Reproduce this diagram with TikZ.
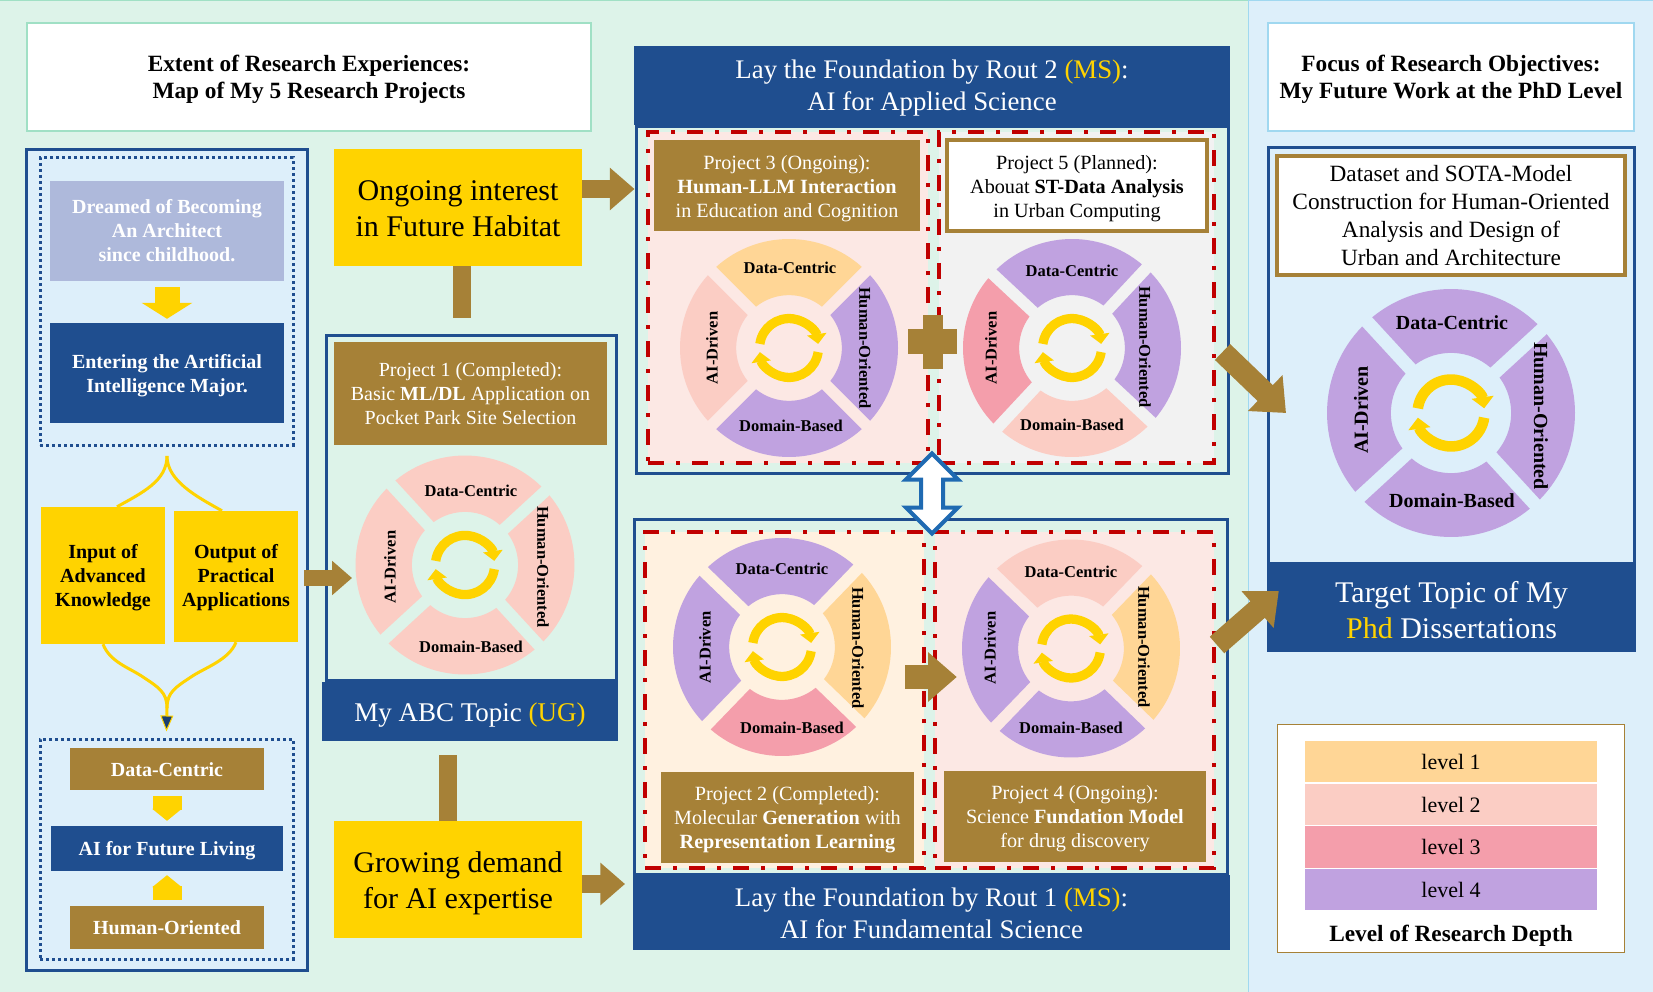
\documentclass[tikz,border=0pt]{standalone}
\usepackage{fontspec}
\setmainfont{Liberation Serif}
\usetikzlibrary{arrows.meta,shapes.arrows}

\definecolor{bluec}{HTML}{1F4E8F}
\definecolor{brownc}{HTML}{A68137}
\definecolor{yellowc}{HTML}{FFD300}
\definecolor{greenbg}{HTML}{DDF3E9}
\definecolor{bluebg}{HTML}{DDEFFA}
\definecolor{greenline}{HTML}{A0E0C5}
\definecolor{blueline}{HTML}{A0D8F0}
\definecolor{lilac}{HTML}{AEB9DB}
\definecolor{redc}{HTML}{C00000}
\definecolor{levelA}{HTML}{FFD696}
\definecolor{levelB}{HTML}{FBCDC4}
\definecolor{levelC}{HTML}{F49EAB}
\definecolor{levelD}{HTML}{C0A2E0}
\definecolor{fillA}{HTML}{FCE8E4}
\definecolor{fillB}{HTML}{F2F2F2}
\definecolor{fillC}{HTML}{FFF1E0}
\definecolor{swapc}{HTML}{1F6AB2}

\tikzset{
  box/.style 2 args={rectangle,minimum width=#1pt,minimum height=#2pt,inner sep=0pt,align=center},
  panel/.style={draw=bluec,line width=3pt},
  header/.style={fill=bluec,text=white},
  brownbox/.style={fill=brownc,text=white},
  yellowbox/.style={fill=yellowc},
  dotted box/.style={draw=bluec,line width=3pt,dash pattern=on 3pt off 3pt},
  red box/.style={draw=redc,line width=4pt,dash pattern=on 16pt off 12pt on 4pt off 12pt},
  bigarrow/.style 2 args={draw=brownc,line width=#1pt,-{Triangle[width=#2pt,length=.6*#2pt]}},
  bar/.style={draw=brownc,line width=18pt},
  yarrow/.style={draw=yellowc,line width=25pt,-{Triangle[width=50pt,length=16pt]}},
  penta/.style={draw=yellowc,line width=29pt,-{Triangle[width=29pt,length=12pt]}},
  forkline/.style={draw=yellowc,line width=3pt}
}

% size then leading, in pixels of the reference
\newcommand{\fs}[2]{\fontsize{#1}{#2}\selectfont}
% moves the text of a box down
\newcommand{\drop}[1]{\rule{0pt}{\dimexpr\fontcharht\font`l+2\dimexpr#1pt\relax\relax}}

% ring of four sectors with the two turning arrows
\newcommand{\wheel}[8]{
  \begin{scope}[shift={(#2,#3)}]
  \pgfmathsetmacro{\rin}{0.485*#1}
  \pgfmathsetmacro{\gapout}{asin(0.055*#1/#1)}
  \pgfmathsetmacro{\gapin}{asin(0.055*#1/\rin)}
  \begin{scope}[rotate=#8]
  \foreach \ang/\col in {90/#4,0/#5,-90/#6,180/#7} {
    \fill[\col] (\ang-45+\gapout:#1pt)
      arc[start angle=\ang-45+\gapout,end angle=\ang+45-\gapout,radius=#1pt]
      -- (\ang+45-\gapin:\rin pt)
      arc[start angle=\ang+45-\gapin,end angle=\ang-45+\gapin,radius=\rin pt] -- cycle;
  }
  \end{scope}
  \pgfmathsetmacro{\rarr}{0.27*#1}
  \pgfmathsetmacro{\warr}{0.085*#1}
  \pgfmathsetmacro{\wtip}{0.175*#1}
  \pgfmathsetmacro{\ltip}{0.09*#1}
  \draw[yellowc,line width=\warr pt,-{Triangle[width=\wtip pt,length=\ltip pt]}]
    (172:\rarr pt) arc[start angle=172,end angle=8,radius=\rarr pt];
  \draw[yellowc,line width=\warr pt,-{Triangle[width=\wtip pt,length=\ltip pt]}]
    (-8:\rarr pt) arc[start angle=-8,end angle=-172,radius=\rarr pt];
  \end{scope}
}
\newcommand{\wheellabels}[6]{
  \node[font=\fs{#2}{#2}\bfseries] (#1data) at (#3) {Data-Centric};
  \node[font=\fs{#2}{#2}\bfseries] (#1domain) at (#4) {Domain-Based};
  \node[font=\fs{#2}{#2}\bfseries,rotate=90] (#1ai) at (#5) {AI-Driven};
  \node[font=\fs{#2}{#2}\bfseries,rotate=-90] (#1human) at (#6) {Human-Oriented};
}

\begin{document}
\begin{tikzpicture}[x=1pt,y=-1pt]
\useasboundingbox (0,0) rectangle (1653,992);

% Background
\fill[greenbg] (0,0) rectangle (1248,992);
\fill[bluebg] (1248,0) rectangle (1653,992);
\draw[greenline,line width=1.5pt] (0,0.5) -- (1248,0.5);
\draw[blueline,line width=1.5pt] (1248,0.5) -- (1653,0.5);
\draw[blueline,line width=1pt] (1248,0) -- (1248,992);

% Titles
\node[box={564}{108},draw=greenline,line width=2pt,fill=white,font=\fs{23.3}{27.5}\bfseries] (titleleft) at (309,77)
  {\drop{3}Extent of Research Experiences:\\Map of My 5 Research Projects};
\node[box={366}{108},draw=blueline,line width=1.5pt,fill=white,font=\fs{23.3}{27.5}\bfseries] (titleright) at (1451,77)
  {\drop{3}Focus of Research Objectives:\\My Future Work at the PhD Level};

% Left column
\node[box={281}{821},panel,fill=bluebg] (leftpanel) at (167,560) {};
\node[box={253}{287},dotted box] (dotsup) at (166.5,301.5) {};
\node[box={234}{100},fill=lilac,text=white,font=\fs{20}{24}\bfseries] (dreamed) at (167,231)
  {Dreamed of Becoming\\An Architect\\since childhood.};
\node[box={234}{100},header,font=\fs{20}{24}\bfseries] (entering) at (167,373)
  {\drop{3}Entering the Artificial\\Intelligence Major.};
\node[box={124}{137},yellowbox,font=\fs{20}{24}\bfseries] (input) at (103,575.5)
  {\drop{3}Input of\\Advanced\\Knowledge};
\node[box={124}{131},yellowbox,font=\fs{20}{24}\bfseries] (output) at (236,576.5)
  {\drop{2}Output of\\Practical\\Applications};
\node[box={253}{220},dotted box] (dotsdown) at (166.5,849) {};
\node[box={194}{42},brownbox,font=\fs{20}{24}\bfseries] (datac) at (167,769) {\drop{1}Data-Centric};
\node[box={232}{45},header,font=\fs{20}{24}\bfseries] (future) at (167,848.5) {\drop{3}AI for Future Living};
\node[box={194}{43},brownbox,font=\fs{20}{24}\bfseries] (humano) at (167,927.5) {\drop{1}Human-Oriented};

\draw[yarrow] ([yshift=-6pt]dreamed.south) -- ([yshift=4pt]entering.north);
\draw[penta] ([yshift=-6pt]datac.south) -- ([yshift=5pt]future.north);
\draw[penta] ([yshift=6pt]humano.north) -- ([yshift=-4pt]future.south);

% Split and merge
\coordinate (forktop) at (167,456);
\coordinate (forkfoot) at (167,708);
\coordinate (forkleft) at (143,677);
\coordinate (forkright) at (191,677);
\draw[forkline] (forktop) .. controls +(0,25) and +(25,-14) .. ([xshift=14pt]input.north);
\draw[forkline] (forktop) .. controls +(0,25) and +(-25,-14) .. ([xshift=-14pt]output.north);
\draw[forkline] (input.south) .. controls +(7,18) and +(-13,-9) .. (forkleft)
  .. controls +(15,10) and +(0,-16) .. (forkfoot);
\draw[forkline] (output.south) .. controls +(-7,18) and +(13,-9) .. (forkright)
  .. controls +(-15,10) and +(0,-16) .. (forkfoot);
\draw[forkline,-{Triangle[width=13pt,length=16pt,fill=bluec!80!black,line width=1pt]}] (forkfoot) -- ([yshift=6pt]dotsdown.north);

% Two yellow boxes
\node[box={248}{117},yellowbox,font=\fs{30}{36}] (ongoing) at (458,207.5) {\drop{1}Ongoing interest\\in Future Habitat};
\node[box={248}{117},yellowbox,font=\fs{30}{36}] (growing) at (458,879.5) {\drop{4}Growing demand\\for AI expertise};

% Project 1
\node[box={290}{345},panel,fill=greenbg] (abcpanel) at (471.5,508) {};
\node[box={296}{59},header,font=\fs{27}{32}] (abchead) at (470,711.5) {\drop{4}My ABC Topic \textcolor{yellowc}{(UG)}};
\node[box={273}{103},brownbox,font=\fs{20}{24}] (projA) at (470.5,393.5)
  {Project 1 (Completed):\\Basic \textbf{ML/DL} Application on\\Pocket Park Site Selection};
\wheel{109.5}{465}{565}{levelB}{levelB}{levelB}{levelB}{-2.4}
\wheellabels{wa}{16.5}{471,491}{471,647}{390,567}{543,567}

% Route 2
\node[box={592}{347},panel,fill=greenbg] (upperpanel) at (932,300) {};
\node[box={596}{79},header,font=\fs{26.8}{32}] (upperhead) at (932,85.5)
  {\drop{3}Lay the Foundation by Rout 2 \textcolor{yellowc}{(MS)}:\\AI for Applied Science};
\node[box={280}{331},fill=fillA] (redC) at (788,297.5) {};
\node[box={275}{331},fill=fillB] (redE) at (1076.5,297.5) {};
\node[box={280}{331},red box] (redCb) at (788,297.5) {};
\node[box={275}{331},red box] (redEb) at (1076.5,297.5) {};
\node[box={266}{91},brownbox,font=\fs{20.2}{24}] (projC) at (787,185.5)
  {\drop{4}Project 3 (Ongoing):\\\textbf{Human-LLM Interaction}\\in Education and Cognition};
\node[box={260}{91},draw=brownc,line width=4pt,fill=white,font=\fs{20.2}{24}] (projE) at (1077,185.5)
  {\drop{3.5}Project 5 (Planned):\\Abouat \textbf{ST-Data Analysis}\\in Urban Computing};
\wheel{109}{789}{348}{levelA}{levelD}{levelD}{levelB}{0}
\wheellabels{wc}{16.5}{790,268}{791,426}{712,348}{865,348}
\wheel{109}{1072}{348}{levelD}{levelD}{levelB}{levelC}{2}
\wheellabels{we}{16.5}{1072,271}{1072,425}{991,348}{1145,347}

% Route 1
\node[box={593}{355},panel,fill=greenbg] (lowerpanel) at (931,696.5) {};
\node[box={597}{75},header,font=\fs{26.8}{32}] (lowerhead) at (931.5,912.5)
  {\drop{1}Lay the Foundation by Rout 1 \textcolor{yellowc}{(MS)}:\\AI for Fundamental Science};
\node[box={279}{336},fill=fillC] (redB) at (784.5,700) {};
\node[box={279}{336},fill=fillA] (redD) at (1074.5,700) {};
\node[box={279}{336},red box] (redBb) at (784.5,700) {};
\node[box={279}{336},red box] (redDb) at (1074.5,700) {};
\node[box={253}{91},brownbox,font=\fs{20.2}{24}] (projB) at (787.5,817.5)
  {\drop{3}Project 2 (Completed):\\Molecular \textbf{Generation} with\\\textbf{Representation Learning}};
\node[box={262}{91},brownbox,font=\fs{20.2}{24}] (projD) at (1075,816.5)
  {\drop{3}Project 4 (Ongoing):\\Science \textbf{Fundation Model}\\for drug discovery};
\wheel{109}{782}{647}{levelD}{levelA}{levelC}{levelD}{1}
\wheellabels{wb}{16.5}{782,569}{792,728}{705,647.5}{858,648}
\wheel{109}{1071}{648.5}{levelB}{levelA}{levelD}{levelD}{1}
\wheellabels{wd}{16.5}{1071,572}{1071,728}{990,648}{1144,647}

% Right column
\node[box={366}{415},panel,fill=bluebg] (rightpanel) at (1451.5,355.5) {};
\node[box={369}{88},header,font=\fs{30}{36}] (righthead) at (1451.5,608)
  {\drop{2.5}Target Topic of My\\\textcolor{yellowc}{Phd} Dissertations};
\node[box={348}{119},draw=brownc,line width=4pt,fill=white,font=\fs{23.3}{28}] (sota) at (1451,215.5)
  {Dataset and SOTA-Model\\Construction for Human-Oriented\\Analysis and Design of\\Urban and Architecture};
\wheel{124}{1451}{413}{levelD}{levelD}{levelD}{levelD}{-2.4}
\wheellabels{wf}{20}{1452,323}{1452,501}{1361,410}{1541,416}

% Legend
\node[box={347}{228},draw=brownc,line width=1pt,fill=white] (legend) at (1451,838.5) {};
\foreach \n/\yy/\hh/\col in {1/761.5/41/levelA,2/804.5/41/levelB,3/847/42/levelC,4/889.5/41/levelD} {
  \node[box={292}{\hh},fill=\col,font=\fs{22}{24}] (level\n) at (1451,\yy) {level \n};
}
\node[font=\fs{23.3}{24}\bfseries] (legendname) at (1451,936) {Level of Research Depth};

% Connectors
\draw[bigarrow={18}{41}] ([yshift=18.5pt]ongoing.east) -- ([yshift=111pt]upperpanel.west);
\draw[bigarrow={18}{41}] ([yshift=-4.5pt]growing.east) -- ([xshift=-8pt,yshift=-187.5pt]lowerpanel.west);
\draw[bigarrow={16}{33}] ([xshift=6pt,yshift=-1.5pt]output.east) -- ([xshift=27pt,yshift=-70pt]abcpanel.west);
\draw[bigarrow={24}{48}] ([xshift=-19pt,yshift=23pt]redB.east) -- ([xshift=22pt,yshift=23pt]redD.west);
\draw[bigarrow={22}{48}] ([xshift=-7pt,yshift=-52pt]upperpanel.east) -- ([xshift=19pt,yshift=-57.5pt]rightpanel.west);
\draw[bigarrow={22}{47}] ([xshift=-12pt,yshift=51.5pt]lowerpanel.east) -- ([xshift=12pt,yshift=17pt]righthead.west);
\draw[bar] ([xshift=4pt]ongoing.south) -- ([xshift=-9.5pt,yshift=16pt]abcpanel.north);
\draw[bar] ([xshift=-22pt,yshift=-14pt]abchead.south) -- ([xshift=-10pt]growing.north);

% Plus and double arrow
\node[box={49}{25},fill=brownc] (plush) at (932.5,341.5) {};
\node[box={20}{54},fill=brownc] (plusv) at (933,342) {};
\node[double arrow,draw=swapc,line width=4pt,fill=white,rotate=90,inner xsep=0pt,inner ysep=9pt,
  minimum height=80pt,minimum width=52pt,double arrow head extend=15pt] (bothways) at (932,493.5) {};
\end{tikzpicture}
\end{document}
